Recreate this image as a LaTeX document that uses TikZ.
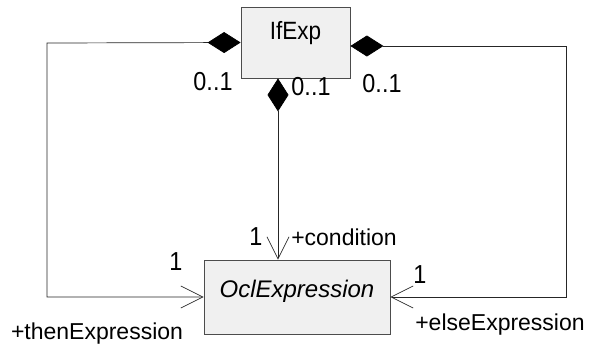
\documentclass[tikz,border=0pt]{standalone}
\usepackage{fontspec}
\setmainfont{Liberation Sans}
\newfontfamily\narrowfont[FakeStretch=0.9]{Liberation Sans}
\usetikzlibrary{positioning,calc,arrows.meta}

\tikzset{
	umlclass/.style={draw=black!70, fill=black!6, line width=0.8pt, inner sep=0pt},
	compos/.style={draw=black!85, line width=0.7pt,
		{Diamond[length=33pt,width=21pt,color=black]}-{Straight Barb[length=22pt,width=22pt]}},
	mult/.style={anchor=base, inner sep=0pt, font=\narrowfont\fontsize{26}{28}\selectfont},
	role/.style={anchor=base, inner sep=0pt, font=\fontsize{23}{25}\selectfont},
}

\begin{document}
\begin{tikzpicture}[x=1pt,y=-1pt]
				
				\useasboundingbox (0,0) rectangle (590,349);
				
				% classes
				\node[umlclass, minimum width=109pt, minimum height=71pt, text depth=25pt,
					font=\narrowfont\fontsize{25}{27}\selectfont] (ifexp) at (295.5,42.5) {IfExp};
				\node[umlclass, minimum width=186pt, minimum height=74pt, text depth=17pt,
					font=\fontsize{24}{26}\selectfont] (ocl) at (297,297) {\itshape OclExpression};
				
				% corners
				\coordinate (tl) at (47,43);
				\coordinate (bl) at (47,297);
				\coordinate (re) at ([yshift=-3.5pt]ifexp.east);
				\coordinate (tr) at (566,46);
				\coordinate (br) at (566,297);
				\coordinate (ms) at ([xshift=-17.5pt]ifexp.south);
				\coordinate (me) at ([xshift=-19pt]ocl.north);
				
				% associations
				\draw[compos] (ifexp.west) -- (tl) -- (bl) -- (ocl.west);
				\draw[compos] (re) -- (tr) -- (br) -- (ocl.east);
				\draw[compos] (ms) -- (me);
				
				% multiplicities and roles
				\node[mult] (m1) at (213,90) {0..1};
				\node[mult] (m2) at (311,95) {0..1};
				\node[mult] (m3) at (382,92) {0..1};
				\node[mult] (n2) at (256,245) {1};
				\node[role] (r2) at (344,245) {+condition};
				\node[mult] (n1) at (176,270) {1};
				\node[role] (r1) at (97,339) {+thenExpression};
				\node[mult] (n3) at (420,283) {1};
				\node[role] (r3) at (500,330) {+elseExpression};
				
			\end{tikzpicture}
\end{document}
